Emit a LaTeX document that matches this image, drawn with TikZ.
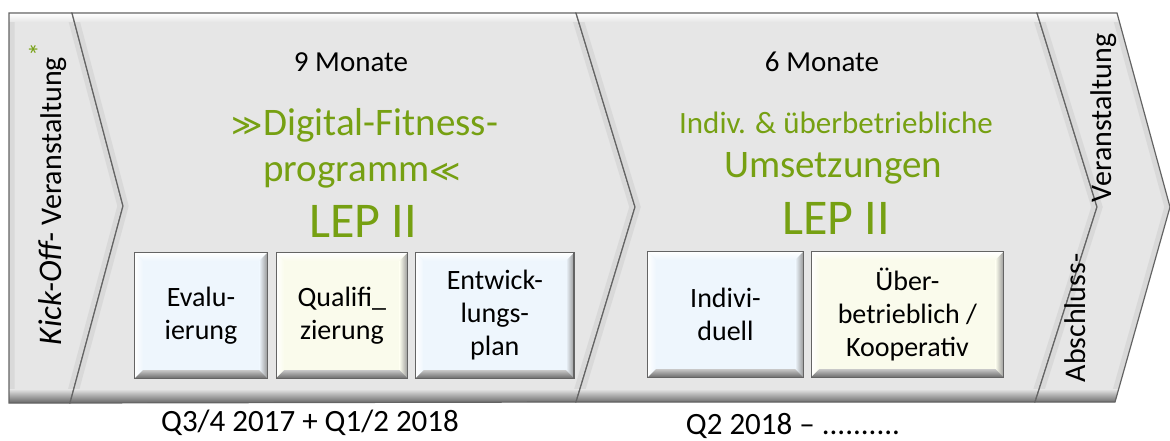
\documentclass[tikz,border=0pt]{standalone}
\usepackage{fontspec}
\setmainfont{Carlito}
\newfontfamily\symfont{DejaVu Sans}
\usetikzlibrary{positioning,calc}
\definecolor{lepgreen}{RGB}{118,160,18}
\definecolor{facegray}{RGB}{230,230,230}
\definecolor{edgegray}{RGB}{100,100,100}
\definecolor{boxblue}{RGB}{238,246,253}
\definecolor{boxcream}{RGB}{250,251,236}

% bevelled face for one arrow piece
\newcommand{\bevelshape}[1]{%
  \begin{scope}
    \clip #1;
    \fill[facegray] #1;
    \draw[line width=11pt,gray!30] #1;
    \shade[top color=white,bottom color=facegray] (0,13) rectangle (1170,22);
    \shade[top color=facegray,bottom color=gray!80!black] (0,389) rectangle (1170,403);
  \end{scope}
  \draw[edgegray,line width=1.2pt] #1;
}

% bevelled rim round a box node
\newcommand{\bevelbox}[2]{%
  \shade[top color=white,bottom color=#2]
    (#1.north west) -- (#1.north east) -- ([xshift=-8pt,yshift=-8pt]#1.north east) -- ([xshift=8pt,yshift=-8pt]#1.north west) -- cycle;
  \shade[left color=white,right color=#2]
    (#1.north west) -- (#1.south west) -- ([xshift=8pt,yshift=8pt]#1.south west) -- ([xshift=8pt,yshift=-8pt]#1.north west) -- cycle;
  \shade[left color=#2,right color=gray!80]
    (#1.north east) -- (#1.south east) -- ([xshift=-8pt,yshift=8pt]#1.south east) -- ([xshift=-8pt,yshift=-8pt]#1.north east) -- cycle;
  \shade[top color=gray!45,bottom color=gray!85!black]
    (#1.south west) -- (#1.south east) -- ([xshift=-8pt,yshift=8pt]#1.south east) -- ([xshift=8pt,yshift=8pt]#1.south west) -- cycle;
  \draw[edgegray,line width=1.2pt] (#1.south west) rectangle (#1.north east);
}

\tikzset{
  phasebox/.style={fill=#1,minimum height=125pt,inner sep=0pt,align=center,
    font=\fontsize{28}{33}\selectfont},
  monat/.style={anchor=base,font=\fontsize{29}{34}\selectfont},
  titel/.style={anchor=base,text=lepgreen,font=\fontsize{39}{45}\selectfont},
  lep/.style={anchor=base,text=lepgreen,font=\fontsize{50}{58}\selectfont},
  zeit/.style={font=\fontsize{31}{36}\selectfont},
  vlabel/.style={rotate=90,font=\fontsize{30}{35}\selectfont}
}

\begin{document}
\begin{tikzpicture}[x=1pt,y=-1pt]
    \useasboundingbox (0,0) rectangle (1170,441);
    % arrow pieces
    \bevelshape{(9,13)--(72,13)--(123,206)--(70,403)--(9,403)--cycle}
    \bevelshape{(72,13)--(576,13)--(635,207)--(576,402)--(70,403)--(123,206)--cycle}
    \bevelshape{(576,13)--(1037,13)--(1097,207)--(1035,402)--(576,402)--(635,207)--cycle}
    \bevelshape{(1037,13)--(1117,13)--(1170,207)--(1115,402)--(1035,402)--(1097,207)--cycle}
    % side labels
    \node[rotate=90] (kick) at (48,194)
        {\fontsize{33}{36}\selectfont\itshape Kick-Off-\upshape\fontsize{30}{34}\selectfont{} Veranstaltung\raisebox{13pt}{\textcolor{lepgreen}{\fontsize{28}{30}\selectfont *}}};
    \node[vlabel] (absch) at (1075,318) {Abschluss-};
    \node[vlabel] (veran) at (1104,118) {Veranstaltung};
    % first phase
    \node[monat] (mon1) at (351,72) {9 Monate};
    \node[titel] (tit1a) at (365,136) {{\symfont\fontsize{30}{34}\selectfont≫}Digital-Fitness-};
    \node[titel] (tit1b) at (362,182) {programm{\symfont\fontsize{30}{34}\selectfont≪}};
    \node[lep] (lep1) at (363,237) {LEP II};
    \node[phasebox=boxblue,minimum width=132pt] (eval) at (201,315.5) {Evalu-\\ierung};
    \node[phasebox=boxcream,minimum width=131pt,right=9pt of eval] (qual) {Qualifi\_\\zierung};
    \node[phasebox=boxblue,minimum width=158pt,right=8pt of qual] (plan) {Entwick-\\lungs-\\plan};
    \bevelbox{eval}{boxblue}
    \bevelbox{qual}{boxcream}
    \bevelbox{plan}{boxblue}
    % second phase
    \node[monat] (mon2) at (822,72) {6 Monate};
    \node[titel,font=\fontsize{31}{36}\selectfont] (tit2a) at (836,134) {Indiv. \& überbetriebliche};
    \node[titel] (tit2b) at (833,178) {Umsetzungen};
    \node[lep] (lep2) at (836,234) {LEP II};
    \node[phasebox=boxblue,minimum width=155pt] (indiv) at (725.5,314.5) {Indivi-\\duell};
    \node[phasebox=boxcream,minimum width=192pt,right=8pt of indiv] (ueber) {Über-\\betrieblich /\\Kooperativ};
    \bevelbox{indiv}{boxblue}
    \bevelbox{ueber}{boxcream}
    % time spans
    \node[zeit] (zeit1) at (310,423) {Q3/4 2017 + Q1/2 2018};
    \node[zeit] (zeit2) at (793,426) {Q2 2018 – ..........};
\end{tikzpicture}
\end{document}
